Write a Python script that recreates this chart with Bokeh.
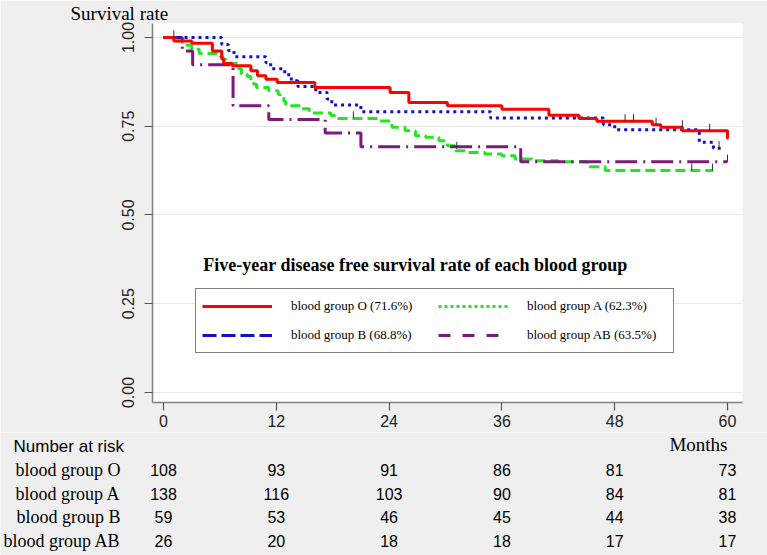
import numpy as np
from bokeh.plotting import figure
from bokeh.layouts import column
from bokeh.models import (FixedTicker, Legend, LegendItem, Label, Range1d,
                          PrintfTickFormatter)
from bokeh.embed import file_html
from bokeh.resources import INLINE

# ---------------- data ----------------
month_ticks = [0, 12, 24, 36, 48, 60]
surv_ticks = [0.0, 0.25, 0.5, 0.75, 1.0]

o_t = [0, 1.1, 3.0, 5.2, 6.2, 6.4, 7.3, 9.3, 10.0, 10.9, 12.1, 16.1, 24.1, 26.1,
       30.2, 36.0, 41.0, 44.2, 46.1, 52.0, 52.9, 55.2, 60.0, 60.1]
o_s = [1.0, 0.990, 0.984, 0.962, 0.939, 0.927, 0.920, 0.906, 0.892, 0.882, 0.873,
       0.859, 0.845, 0.817, 0.808, 0.798, 0.781, 0.772, 0.764, 0.754, 0.747, 0.737,
       0.716, 0.716]

a_t = [0, 1.3, 2.0, 3.0, 3.8, 6.0, 6.3, 6.6, 8.0, 8.3, 8.9, 9.3, 9.6, 9.9, 11.2,
       12.2, 12.4, 12.8, 13.0, 14.6, 15.5, 17.8, 18.2, 22.9, 24.3, 25.7, 26.8, 27.9,
       29.3, 30.2, 31.1, 32.1, 34.2, 36.0, 37.4, 39.2, 42.0, 45.1, 47.0, 58.5]
a_s = [1.0, 0.990, 0.978, 0.967, 0.955, 0.947, 0.939, 0.927, 0.912, 0.897, 0.890,
       0.878, 0.868, 0.859, 0.850, 0.840, 0.832, 0.820, 0.808, 0.799, 0.787, 0.780,
       0.772, 0.765, 0.747, 0.737, 0.723, 0.719, 0.709, 0.695, 0.681, 0.676, 0.672,
       0.667, 0.658, 0.653, 0.650, 0.636, 0.625, 0.625]

b_t = [0, 6.2, 6.9, 7.5, 10.9, 11.4, 12.9, 13.6, 14.3, 16.2, 17.4, 17.9, 21.0,
       34.8, 46.8, 48.0, 57.0, 58.5, 59.5]
b_s = [1.0, 0.980, 0.963, 0.946, 0.929, 0.912, 0.895, 0.878, 0.862, 0.845, 0.827,
       0.810, 0.791, 0.773, 0.754, 0.740, 0.705, 0.688, 0.688]

ab_t = [0, 2.0, 3.1, 7.4, 11.2, 17.2, 21.0, 38.0, 60.0]
ab_s = [1.0, 0.962, 0.923, 0.808, 0.769, 0.731, 0.692, 0.650, 0.650]

# censoring marks
cens_t = [1.1, 20.2, 31.2, 49.1, 50.0, 52.4, 55.2, 56.2, 58.1, 58.4, 59.1, 60.0]
cens_s = [1.0, 0.772, 0.686, 0.764, 0.764, 0.754, 0.747, 0.625, 0.737, 0.625, 0.688, 0.650]

groups = ["blood group O", "blood group A", "blood group B", "blood group AB"]
legend_labels = ["blood group O (71.6%)", "blood group A (62.3%)",
                 "blood group B (68.8%)", "blood group AB (63.5%)"]
risk_O = [108, 93, 91, 86, 81, 73]
risk_A = [138, 116, 103, 90, 84, 81]
risk_B = [59, 53, 46, 45, 44, 38]
risk_AB = [26, 20, 18, 18, 17, 17]

title_text = "Five-year disease free survival rate of each blood group"

# ---------------- styles / geometry ----------------
RED = "#ff0000"
GREEN = "#22e622"
BLUE = "#1010d0"
PURPLE = "#7a1a7a"
BG = "#efefef"
SERIF = "Liberation Serif"
SANS = "Liberation Sans"

W = 767
X0_PX = 163.0       # pixel of month 0
PX_PER_MONTH = 9.4
FRAME_L, FRAME_R = 152, 742


def px2m(px):
    return (px - X0_PX) / PX_PER_MONTH


MAIN_H = 432
TOP_B = 22
BOT_B = MAIN_H - 402
Y0_PX, PX_PER_UNIT = 392.0, 356.0
y_start = (Y0_PX - 402) / PX_PER_UNIT
y_end = (Y0_PX - TOP_B) / PX_PER_UNIT

p = figure(width=W, height=MAIN_H, output_backend="svg", toolbar_location=None,
           x_range=Range1d(px2m(FRAME_L), px2m(FRAME_R)),
           y_range=Range1d(y_start, y_end),
           min_border_left=FRAME_L, min_border_right=W - FRAME_R,
           min_border_top=TOP_B, min_border_bottom=BOT_B)
p.border_fill_color = BG
p.background_fill_color = "white"
p.outline_line_color = None
p.xgrid.visible = False
p.ygrid.grid_line_color = "#e8e8e8"
p.ygrid.grid_line_width = 1

p.title.text = "Survival rate"
p.title.align = "left"
p.title.offset = -82
p.title.standoff = 0
p.title.text_font = SERIF
p.title.text_font_style = "normal"
p.title.text_font_size = "19px"
p.title.text_color = "black"

p.xaxis.ticker = FixedTicker(ticks=month_ticks)
p.yaxis.ticker = FixedTicker(ticks=surv_ticks)
p.yaxis.formatter = PrintfTickFormatter(format="%.2f")
p.yaxis.major_label_orientation = "vertical"
for ax in (p.xaxis[0], p.yaxis[0]):
    ax.axis_line_color = "#808080"
    ax.axis_line_width = 1.5
    ax.major_tick_line_color = "#555555"
    ax.major_tick_line_width = 1.2
    ax.major_tick_out = 8
    ax.major_tick_in = 0
    ax.minor_tick_out = 0
    ax.minor_tick_in = 0
    ax.major_label_text_font = SANS
    ax.major_label_text_font_size = "16px"
    ax.major_label_text_color = "#222222"
p.xaxis.major_label_standoff = 4
p.yaxis.major_label_standoff = 10

# curves
p.step(x=a_t, y=a_s, mode="after", line_color=GREEN, line_width=3, line_dash="10 5")
p.step(x=ab_t, y=ab_s, mode="after", line_color=PURPLE, line_width=3, line_dash="22 6 2 6")
p.step(x=b_t, y=b_s, mode="after", line_color=BLUE, line_width=3, line_dash="3 4")
p.step(x=o_t, y=o_s, mode="after", line_color=RED, line_width=3)
p.segment(x0=cens_t, y0=cens_s, x1=cens_t, y1=[s + 0.02 for s in cens_s],
          line_color="#333333", line_width=1)

# legend (line styles as drawn in the reference legend)
nan = np.array([np.nan])
dO = p.line(x=nan, y=nan, line_color=RED, line_width=3)
dA = p.line(x=nan, y=nan, line_color=GREEN, line_width=3, line_dash="3 3")
dB = p.line(x=nan, y=nan, line_color=BLUE, line_width=3, line_dash="14 5")
dAB = p.line(x=nan, y=nan, line_color=PURPLE, line_width=3, line_dash="12 12")
legend = Legend(items=[LegendItem(label=legend_labels[0], renderers=[dO]),
                       LegendItem(label=legend_labels[2], renderers=[dB]),
                       LegendItem(label=legend_labels[1], renderers=[dA]),
                       LegendItem(label=legend_labels[3], renderers=[dAB])],
                location=(43, 49), orientation="vertical", nrows=2,
                border_line_color="black", border_line_width=1,
                background_fill_color="white", background_fill_alpha=1,
                padding=6, spacing=7, margin=0,
                glyph_width=70, glyph_height=22, label_height=22, label_width=140,
                label_standoff=19, label_text_font=SERIF,
                label_text_font_size="13px", label_text_color="black")
p.add_layout(legend)

p.add_layout(Label(x=415 - FRAME_L, y=402 - 264, x_units="screen", y_units="screen",
                   text=title_text, text_align="center", text_baseline="middle",
                   text_font=SERIF, text_font_style="bold", text_font_size="18px",
                   text_color="black"))

# ---------------- number-at-risk table ----------------
TAB_H = 555 - MAIN_H
TAB_TOP = MAIN_H
ROW0_PX, ROW_PX = 446.0 - TAB_TOP, 23.5   # first row centre (from table top), row pitch
t = figure(width=W, height=TAB_H, output_backend="svg", toolbar_location=None,
           x_range=Range1d(px2m(0), px2m(W)),
           y_range=Range1d((TAB_H - ROW0_PX) / ROW_PX, -ROW0_PX / ROW_PX),
           x_axis_type=None, y_axis_type=None, min_border=0)
t.border_fill_color = BG
t.background_fill_color = BG
t.outline_line_color = None

for fig in (p, t):
    if "frame_align" in fig.properties():
        fig.frame_align = False

t.text(x=[px2m(13)], y=[0], text=["Number at risk"], text_align="left",
       text_baseline="middle", text_font={"value": SANS}, text_font_size="17px",
       text_color="black")
t.text(x=[60], y=[-2 / ROW_PX], text=["Months"], text_align="right",
       text_baseline="middle", text_font={"value": SERIF}, text_font_size="19px",
       text_color="black")
t.text(x=[px2m(120)] * len(groups), y=list(range(1, len(groups) + 1)), text=groups,
       text_align="right", text_baseline="middle", text_font={"value": SERIF},
       text_font_size="18px", text_color="black")
for i, vals in enumerate([risk_O, risk_A, risk_B, risk_AB], start=1):
    t.text(x=month_ticks, y=[i] * len(month_ticks), text=[str(v) for v in vals],
           text_align="center", text_baseline="middle", text_font={"value": SANS},
           text_font_size="16px", text_color="black")

layout = column(p, t, spacing=0)
open("out.html", "w").write(file_html(layout, INLINE))
